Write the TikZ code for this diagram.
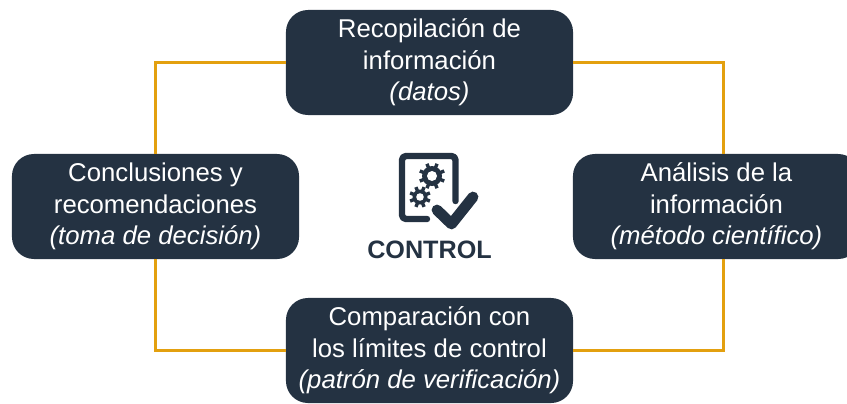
\documentclass[tikz,border=0pt]{standalone}
\usepackage{fontspec}
\setmainfont{Liberation Sans}
\definecolor{azul}{HTML}{243242}
\definecolor{naranja}{HTML}{E3A00F}
\tikzset{
    etapa/.style={draw=none, fill=azul, text=white, rounded corners=0.55cm,
        minimum width=7.175cm, minimum height=2.625cm, inner sep=0pt, align=center,
        font=\fontsize{18.3}{22.4}\selectfont},
    enlace/.style={draw=naranja, line width=2pt},
    icono/.style={draw=azul, line cap=round, line join=round}
}
\newcommand{\engranaje}[4]{%
    \fill[azul] (#1,#2) circle (#3);
    \foreach \ang in {0,45,...,315}
        \draw[azul, line width=0.085cm] (#1,#2) -- ++(\ang+22.5:#3+3.2);
    \fill[white] (#1,#2) circle (#4);
}
\begin{document}
\begin{tikzpicture}[x=0.025cm, y=-0.025cm]
\useasboundingbox (0,0) rectangle (847,403);

%etapas
    \node[etapa] (recop) at (429.5,62.5) {Recopilación de\\información\\\textit{(datos)}};
    \node[etapa] (concl) at (155.5,206.5) {Conclusiones y\\recomendaciones\\\textit{(toma de decisión)}};
    \node[etapa] (anal) at (716.5,206.5) {Análisis de la\\información\\\textit{(método científico)}};
    \node[etapa] (comp) at (429.5,350.5) {Comparación con\\los límites de control\\\textit{(patrón de verificación)}};

%enlaces
    \begin{scope}[on background layer/.try]
    \draw[enlace] (recop.east) -| ([xshift=0.165cm]anal.north);
    \draw[enlace] (comp.east) -| ([xshift=0.165cm]anal.south);
    \draw[enlace] (recop.west) -| (concl.north);
    \draw[enlace] (comp.west) -| (concl.south);
    \end{scope}

%icono
    %hoja
    \draw[icono, line width=0.16cm, rounded corners=0.1cm] (455.5,201) -- (455.5,156) -- (402,156)
        -- (402,219) -- (427,219);
    %engranajes
    \engranaje{432}{176}{10}{5}
    \engranaje{420}{197}{7.5}{3.8}
    %visto
    \draw[icono, line width=0.27cm] (437,210) -- (451.5,224) -- (473,197);

    \node[text=azul, font=\fontsize{17.9}{20}\selectfont\bfseries] (titulo) at (429.5,250) {CONTROL};
\end{tikzpicture}
\end{document}
